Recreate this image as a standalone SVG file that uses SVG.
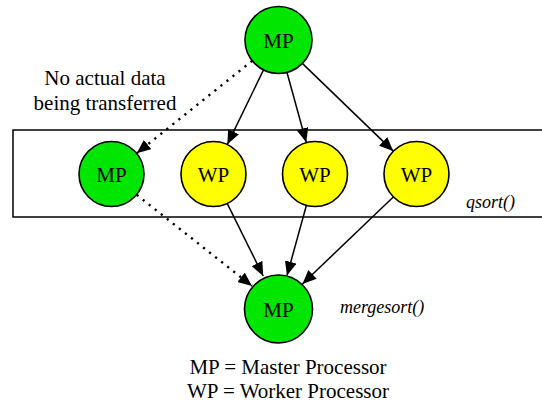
<svg xmlns="http://www.w3.org/2000/svg" width="542" height="405" viewBox="0 0 542 405">
<style>
.node{stroke:#000;stroke-width:1.6}
.mp{fill:#00e600}
.wp{fill:#ffff00}
.lbl{font-family:"Liberation Serif","Times New Roman",serif;font-size:21px;fill:#000;text-anchor:middle}
.it{font-family:"Liberation Serif","Times New Roman",serif;font-size:18px;font-style:italic;fill:#000}
.edge{stroke:#000;stroke-width:1.5;fill:none;marker-end:url(#ah)}
.dot{stroke-width:2.4;stroke-dasharray:2.2 5.5}
</style>
<defs>
<marker id="ah" markerUnits="userSpaceOnUse" markerWidth="15" markerHeight="12" refX="14" refY="6" orient="auto">
<path d="M0,0 L14,6 L0,12 z" fill="#000"/>
</marker>
</defs>
<rect x="13" y="130" width="540" height="87" fill="none" stroke="#000" stroke-width="1.5"/>
<text class="it" x="466" y="208" font-size="17.5">qsort()</text>
<text class="it" x="340" y="313">mergesort()</text>
<g id="connectors">
<line class="edge dot" x1="252.3" y1="60.7" x2="136.7" y2="153.3"/>
<line class="edge" x1="263.6" y1="69.7" x2="227.4" y2="144.3"/>
<line class="edge" x1="286.8" y1="71.8" x2="306.2" y2="142.2"/>
<line class="edge" x1="301.8" y1="62.9" x2="393.2" y2="151.1"/>
<line class="edge dot" x1="136.7" y1="194.8" x2="252" y2="286"/>
<line class="edge" x1="227.3" y1="203.7" x2="263.2" y2="276"/>
<line class="edge" x1="306.3" y1="205.8" x2="287" y2="275.5"/>
<line class="edge" x1="393.3" y1="197" x2="302.4" y2="284"/>
</g>
<g id="mp-top"><circle class="node mp" cx="278.5" cy="40" r="33.5"/><text class="lbl" x="278.5" y="47.5">MP</text></g>
<g id="mp-row"><circle class="node mp" cx="111.5" cy="174" r="32.5"/><text class="lbl" x="111.5" y="181.5">MP</text></g>
<g id="wp1"><circle class="node wp" cx="213.5" cy="174" r="32.5"/><text class="lbl" x="213.5" y="181.5">WP</text></g>
<g id="wp2"><circle class="node wp" cx="315" cy="174" r="32.5"/><text class="lbl" x="315" y="181.5">WP</text></g>
<g id="wp3"><circle class="node wp" cx="416.5" cy="174" r="32.5"/><text class="lbl" x="416.5" y="181.5">WP</text></g>
<g id="mp-bottom"><circle class="node mp" cx="278.5" cy="309" r="34"/><text class="lbl" x="278.5" y="316.5">MP</text></g>
<g id="note">
<text class="lbl" x="105" y="85">No actual data</text>
<text class="lbl" x="105" y="110">being transferred</text>
</g>
<g id="legend">
<text class="lbl" x="288" y="374">MP = Master Processor</text>
<text class="lbl" x="288" y="398">WP = Worker Processor</text>
</g>
</svg>
